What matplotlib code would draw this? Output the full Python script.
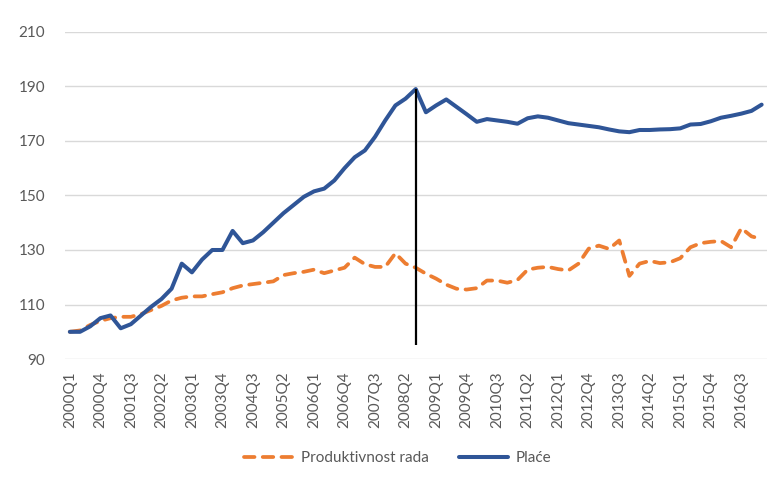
import numpy as np
import matplotlib
matplotlib.use('Agg')
import matplotlib.pyplot as plt

# quarters 2000Q1 .. 2017Q1
quarters = ['%dQ%d' % (y, q) for y in range(2000, 2018) for q in range(1, 5)][:69]

# labour productivity index (2000Q1 = 100)
produktivnost = [100, 100.5, 102.5, 104, 105, 105.5, 105.5, 106.5, 108, 109.5,
                 111.5, 112.5, 113, 113, 113.8, 114.5, 116, 117, 117.5, 118,
                 118.5, 120.8, 121.5, 122, 122.8, 121.5, 122.5, 123.5, 127.2, 124.8,
                 123.8, 123.8, 128.8, 125, 123.5, 121.3, 119.5, 117.3, 115.8, 115.5,
                 116, 118.8, 118.8, 118, 119, 122.8, 123.5, 123.8, 123, 122.5,
                 125, 130.5, 131.6, 130.4, 133.5, 120.5, 125, 126, 125.2, 125.5,
                 127, 131, 132.5, 133, 133.3, 131, 138, 135, 134]

# wages index (2000Q1 = 100)
place = [100, 100, 102, 105, 106, 101.3, 102.8, 106, 109.2, 112,
         115.8, 125, 121.8, 126.5, 130, 130, 137, 132.5, 133.5, 136.5,
         140, 143.5, 146.5, 149.5, 151.5, 152.5, 155.5, 160, 164, 166.5,
         171.5, 177.5, 183, 185.5, 189, 180.5, 183, 185.2, 182.5, 179.8,
         177, 178, 177.5, 177, 176.3, 178.3, 179, 178.5, 177.5, 176.5,
         176, 175.5, 175, 174.2, 173.5, 173.2, 174, 174, 174.2, 174.3,
         174.6, 176, 176.2, 177.2, 178.5, 179.2, 180, 181, 183.3]

# crisis marker
crisis_quarter = '2008Q3'
crisis_line_bottom = 95

yticks = [90, 110, 130, 150, 170, 190, 210]

plt.rcParams['font.family'] = ['Lato', 'DejaVu Sans']
grey = '#595959'

fig = plt.figure(figsize=(7.8, 4.82), dpi=100)
ax = fig.add_axes([0.083, 0.255, 0.9, 0.679])

x = np.arange(len(quarters))
ax.plot(x, produktivnost, color='#ED7D31', lw=2.7, dashes=(2.8, 2.2),
        dash_capstyle='round', label='Produktivnost rada', zorder=3)
ax.plot(x, place, color='#2F5597', lw=2.9, solid_capstyle='round',
        solid_joinstyle='round', label='Plaće', zorder=4)

ci = quarters.index(crisis_quarter)
ax.vlines(ci, crisis_line_bottom, place[ci], color='black', lw=1.6, zorder=5)

ax.set_xlim(-0.5, len(quarters) - 0.5)
ax.set_ylim(90, 210)
ax.set_yticks(yticks)
ax.set_xticks(x[::3])
ax.set_xticklabels(quarters[::3], rotation=90)
ax.grid(axis='y', color='#D9D9D9', lw=1)
ax.set_axisbelow(True)
for s in ax.spines.values():
    s.set_visible(False)
ax.tick_params(axis='both', length=0, colors=grey, labelsize=11)
ax.tick_params(axis='y', pad=14)
ax.tick_params(axis='x', pad=9)

fig.legend(loc='center', bbox_to_anchor=(0.51, 0.05), ncol=2, frameon=False,
           fontsize=11, labelcolor=grey, handlelength=3.2, handletextpad=0.5,
           columnspacing=2.0)

fig.savefig('out.png', dpi=100)
